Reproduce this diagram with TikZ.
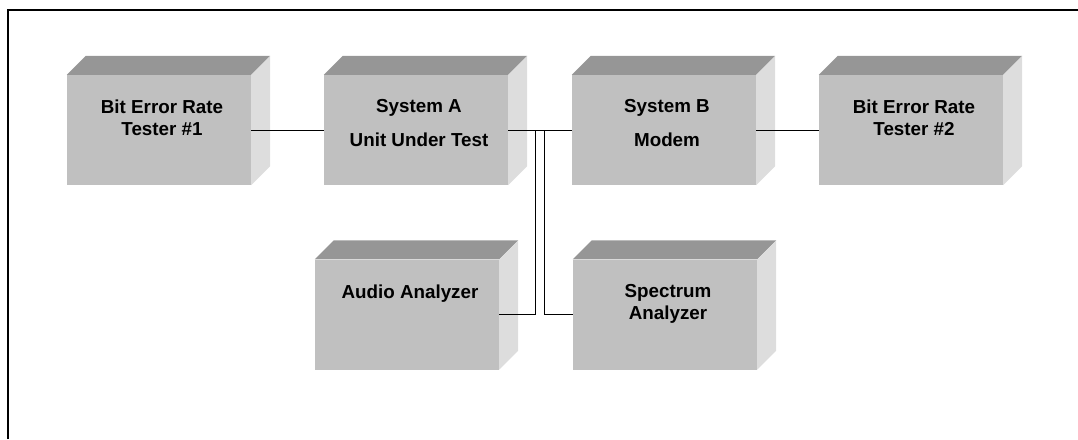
\documentclass[tikz,border=0pt]{standalone}
\usepackage{fontspec}
\setmainfont{Liberation Sans}
\usepackage{tikz}
\usetikzlibrary{calc}
\definecolor{frontgray}{HTML}{C0C0C0}
\definecolor{topgray}{HTML}{969696}
\definecolor{sidegray}{HTML}{DDDDDD}

\begin{document}
\begin{tikzpicture}[
        x=1pt, y=-1pt,
        unit/.style={rectangle, fill=frontgray, minimum width=184pt,
            minimum height=110pt, inner sep=0pt},
        caption/.style={anchor=north, align=center, inner sep=0pt,
            font=\fontsize{18.8}{21.5}\selectfont\bfseries},
        wire/.style={line width=0.8pt}
    ]
        \useasboundingbox (0, 0) rectangle (1078, 439);
        \draw[line width=2pt] (8, 439) -- (8, 10) -- (1078, 10);
        % the units, front faces
        \node[unit] (bert1) at (159, 130) {};
        \node[unit] (sysa) at (416, 130) {};
        \node[unit] (sysb) at (664, 130) {};
        \node[unit] (bert2) at (911, 130) {};
        \node[unit] (audio) at (407, 314.5) {};
        \node[unit] (spec) at (665, 314.5) {};
        % top and side faces
        \foreach \n in {bert1, sysa, sysb, bert2, audio, spec} {
            \fill[topgray] (\n.north west) -- ++(19, -19)
                -- ($(\n.north east) + (19, -19)$) -- (\n.north east) -- cycle;
            \fill[sidegray] (\n.north east) -- ++(19, -19)
                -- ($(\n.south east) + (19, -19)$) -- (\n.south east) -- cycle;
        }
        \node[caption] (bert1txt) at ($(bert1.north) + (3, 25)$) {Bit Error Rate\\Tester \#1};
        \node[caption] (sysatxt) at ($(sysa.north) + (3, 24)$) {System A\\[13pt]Unit Under Test};
        \node[caption] (sysbtxt) at ($(sysb.north) + (3, 24)$) {System B\\[13pt]Modem};
        \node[caption] (bert2txt) at ($(bert2.north) + (3, 25)$) {Bit Error Rate\\Tester \#2};
        \node[caption] (audiotxt) at ($(audio.north) + (3, 25)$) {Audio Analyzer};
        \node[caption] (spectxt) at ($(spec.north) + (3, 25)$) {Spectrum\\Analyzer};
        % connections
        \coordinate (tapa) at (535, 130);
        \coordinate (tapb) at (544, 130);
        \draw[wire] (bert1.east) -- (sysa.west);
        \draw[wire] (sysa.east) -- (sysb.west);
        \draw[wire] (sysb.east) -- (bert2.west);
        \draw[wire] (audio.east) -| (tapa);
        \draw[wire] (spec.west) -| (tapb);
    \end{tikzpicture}
\end{document}
